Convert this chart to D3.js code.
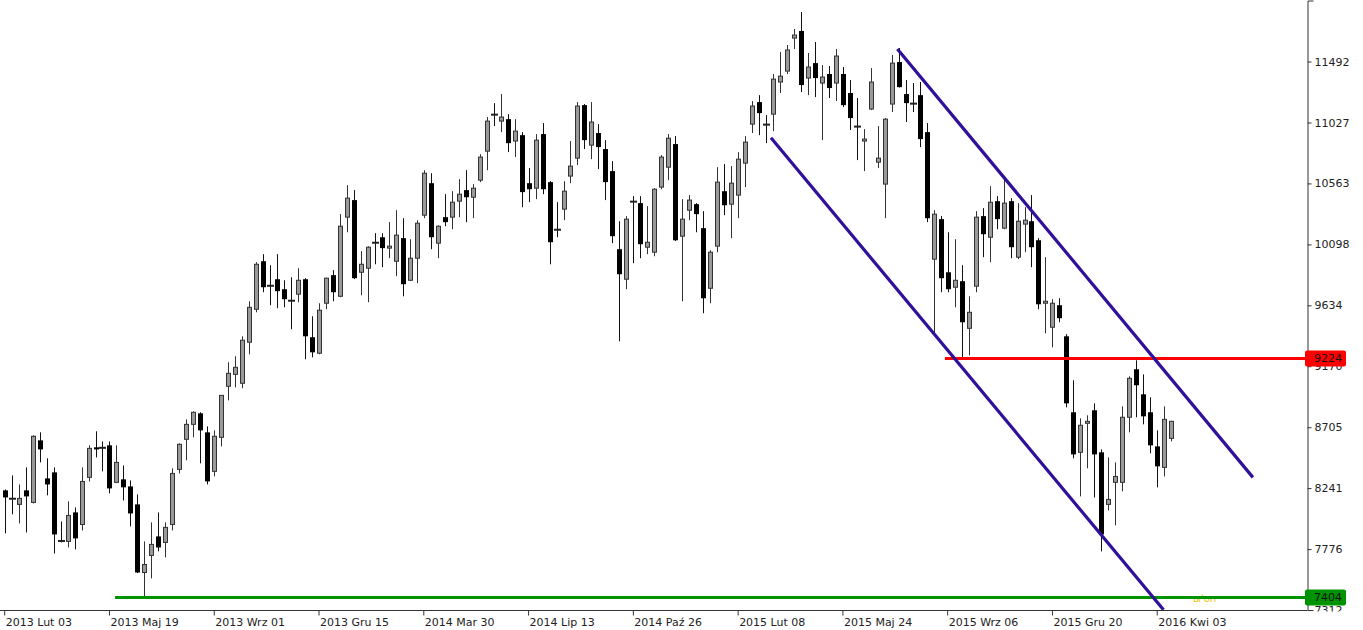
<!DOCTYPE html>
<html>
<head>
<meta charset="utf-8">
<script src="https://cdn.jsdelivr.net/npm/d3@7"></script>
<style>
  html, body { margin: 0; padding: 0; background: #fff; }
  svg { display: block; }
  text { font-family: "DejaVu Sans", Verdana, sans-serif; }
</style>
</head>
<body>
<svg id="chart" width="1363" height="630"></svg>
<script>
// ---- weekly OHLC values (one per week, starting 2013 Lut 03) ----
const open = [
 8220,8160,8113,8220,8128,8601,8311,8357,7838,7831,
 8052,7960,8319,8548,8548,8563,8281,8304,8250,8113,
 7594,7724,7869,7823,7960,8380,8609,8723,8807,8662,
 8365,8624,9013,9104,9036,9349,9600,9966,9783,9829,
 9753,9669,9715,9829,9387,9265,9646,9860,9699,10302,
 10432,9882,9913,10111,10149,10066,9966,10142,9821,9989,
 10317,10561,10104,10302,10302,10424,10508,10454,10584,10805,
 11087,11034,11049,10882,10927,10561,10523,10935,10569,10210,
 10363,10615,10752,11156,10851,10943,10821,10653,10058,9829,
 10424,10409,10073,10035,10531,10683,10859,10157,10355,10401,
 10218,9760,10081,10500,10401,10470,10714,11011,11179,11011,
 11087,11332,11415,11667,11721,11362,11476,11324,11393,11324,
 11393,11248,10996,10882,11126,10721,10554,11164,11484,11240,
 11171,11232,10950,9982,10287,9882,9768,9814,9455,9776,
 10310,10149,10424,10218,10424,9997,10249,10271,10126,9646,
 9463,9631,9394,8815,8510,8731,8830,8510,8113,8281,
 8281,8777,9143,8952,8815,8555,8395,8616
];
const high = [
 8227,8334,8265,8395,8640,8662,8464,8395,7983,8136,
 8090,8395,8563,8670,8593,8593,8563,8410,8296,8189,
 7831,7976,8052,7976,8388,8578,8761,8822,8815,8708,
 8677,8944,9196,9242,9394,9661,9959,10020,9936,10020,
 9821,9844,9913,9837,9547,9646,9840,9898,10325,10546,
 10508,10043,10080,10180,10180,10264,10355,10294,10134,10279,
 10660,10637,10240,10477,10500,10592,10660,10554,10782,11065,
 11171,11240,11087,11049,10950,10676,10935,11019,10576,10416,
 10576,10882,11179,11164,11179,11011,10889,10729,10271,10310,
 10462,10462,10386,10523,10775,10935,10920,10439,10470,10409,
 10348,10050,10683,10706,10691,10798,10920,11187,11232,11080,
 11393,11560,11614,11736,11865,11553,11637,11461,11454,11583,
 11446,11347,11210,10973,11438,10996,11057,11538,11591,11347,
 11324,11332,11019,10355,10310,10187,10134,9936,9699,10348,
 10371,10538,10462,10599,10447,10409,10378,10470,10142,9997,
 9677,9684,9410,9059,8769,8792,8883,8532,8471,8433,
 8860,9089,9211,9104,8929,8677,8860,8750
];
const low = [
 7892,8037,7968,7899,8120,8433,8182,7739,7823,7785,
 7770,7915,8288,8471,8365,8197,8275,8143,7945,7590,
 7404,7549,7755,7709,7915,8349,8449,8624,8426,8265,
 8326,8555,8906,9005,8998,9257,9577,9730,9631,9608,
 9615,9448,9654,9219,9234,9257,9600,9661,9692,10187,
 9830,9707,9654,9943,9921,9989,9852,9699,9815,9799,
 10294,10058,9989,10233,10210,10302,10264,10294,10569,10660,
 10996,10950,10798,10760,10378,10416,10439,10477,9943,10149,
 10279,10561,10699,10821,10744,10668,10432,10104,9356,9753,
 9951,9989,10020,10004,10515,10584,10120,9661,10279,10187,
 9570,9646,10035,10317,10142,10294,10531,10943,10927,10866,
 10958,11248,11393,11583,11255,11232,11217,10889,11210,11187,
 11141,10966,10737,10653,11118,10676,10294,11103,11290,11027,
 11103,10836,10264,9425,9730,9730,9615,9227,9249,9730,
 9997,9959,10210,10210,9989,9982,10035,9921,9600,9417,
 9310,9501,8853,8464,8174,8388,8166,7755,8067,7953,
 8212,8662,8777,8723,8502,8243,8326,8593
];
const close = [
 8166,8158,8159,8174,8632,8532,8265,7884,7836,8029,
 7854,8288,8540,8532,8546,8235,8433,8243,8044,7594,
 7655,7808,7785,7938,8349,8571,8723,8815,8677,8288,
 8632,8944,9112,9158,9364,9615,9943,9768,9781,9738,
 9677,9667,9821,9394,9272,9593,9837,9730,10233,10447,
 9837,9943,10073,10109,10066,10081,10165,9791,9989,10256,
 10637,10149,10233,10264,10416,10477,10454,10523,10760,11034,
 11085,11065,10866,10958,10493,10515,10889,10515,10111,10208,
 10500,10691,11149,10889,11027,10836,10569,10157,9867,10287,
 10422,10096,10111,10515,10760,10904,10126,10287,10432,10325,
 9684,10035,10569,10393,10561,10744,10874,11149,11095,11009,
 11354,11377,11576,11690,11309,11446,11362,11370,11286,11530,
 11156,11057,10994,10897,11332,10752,11049,11476,11293,11171,
 11169,10897,10294,10325,9837,9753,9821,9501,9577,10302,
 10172,10416,10287,10409,10073,10271,10279,10073,9638,9661,
 9646,9532,8883,8494,8716,8746,8494,7884,8151,8326,
 8777,9074,9021,8784,8563,8403,8761,8746
];

// x-axis tick labels (every 15 weeks) and their week index
const xTickIndex = [0, 15, 30, 45, 60, 75, 90, 105, 120, 135, 150, 165];
const xTickLabels = ["2013 Lut 03","2013 Maj 19","2013 Wrz 01","2013 Gru 15",
  "2014 Mar 30","2014 Lip 13","2014 Paź 26","2015 Lut 08","2015 Maj 24",
  "2015 Wrz 06","2015 Gru 20","2016 Kwi 03"];

// y-axis tick values
const yTicks = [11492, 11027, 10563, 10098, 9634, 9170, 8705, 8241, 7776, 7312];

// drawn objects: [weekIndex, value]
const channelLower = [[109.7, 10907], [165.9, 7310]];
const channelUpper = [[127.8, 11583], [178.7, 8319]];
const resistance = { start: 134.6, value: 9224 };
const support = { start: 15.8, value: 7404 };

// ---- layout ----
const svg = d3.select("#chart");
const axisX = 1307;     // right axis position
const axisY = 610;      // bottom axis position

const x = d3.scaleLinear().domain([0, open.length - 1]).range([4.7, 4.7 + 6.985 * (open.length - 1)]);
const y = d3.scaleLinear().domain([7312, 11957]).range([609.5, 0]);

const defs = svg.append("defs");
defs.append("clipPath").attr("id", "clip")
  .append("rect").attr("x", 0).attr("y", 0).attr("width", axisX).attr("height", axisY);
defs.append("clipPath").attr("id", "clipAxis")
  .append("rect").attr("x", -10).attr("y", -10).attr("width", 100).attr("height", axisY + 11);

const plot = svg.append("g");

// ---- candles ----
const idx = d3.range(open.length);
const cg = plot.append("g");
idx.forEach(i => {
  const cx = Math.round(x(i));
  const yo = y(open[i]), yc = y(close[i]);
  const up = close[i] > open[i];
  cg.append("line")
    .attr("x1", cx + 0.5).attr("x2", cx + 0.5)
    .attr("y1", y(high[i])).attr("y2", y(low[i]))
    .attr("stroke", up ? "#333" : "#111").attr("stroke-width", 1);
  const top = Math.min(yo, yc), h = Math.abs(yo - yc);
  if (h < 1.5) {
    cg.append("rect").attr("x", cx - 3).attr("y", top - 0.5).attr("width", 7).attr("height", 2)
      .attr("fill", "#222");
  } else if (up) {
    cg.append("rect").attr("x", cx - 1.5).attr("y", top).attr("width", 4).attr("height", h)
      .attr("fill", "#999").attr("stroke", "#333").attr("stroke-width", 1);
  } else {
    cg.append("rect").attr("x", cx - 2).attr("y", top).attr("width", 5).attr("height", h)
      .attr("fill", "#000");
  }
});

// ---- small label hidden behind support line ----
svg.append("text").attr("x", 1193).attr("y", 602).attr("font-size", 10)
  .attr("fill", "#f2c200").text("ы'он");

// ---- horizontal levels ----
svg.append("line").attr("x1", x(resistance.start)).attr("x2", axisX)
  .attr("y1", y(resistance.value)).attr("y2", y(resistance.value))
  .attr("stroke", "#ff0000").attr("stroke-width", 3);
svg.append("line").attr("x1", x(support.start)).attr("x2", axisX)
  .attr("y1", y(support.value)).attr("y2", y(support.value))
  .attr("stroke", "#009300").attr("stroke-width", 3);

// ---- channel lines ----
const ln = d3.line().x(d => x(d[0])).y(d => y(d[1]));
[channelLower, channelUpper].forEach(p => {
  svg.append("path").attr("d", ln(p)).attr("clip-path", "url(#clip)")
    .attr("fill", "none").attr("stroke", "#30109a").attr("stroke-width", 3.2);
});

// ---- axes ----
const xAxis = d3.axisBottom(x).tickValues(xTickIndex)
  .tickFormat((d, k) => xTickLabels[k]).tickSize(5).tickPadding(3).tickSizeOuter(0);
const gx = svg.append("g").attr("transform", `translate(0.5,${axisY + 0.5})`).call(xAxis);
gx.select(".domain").remove();
gx.selectAll(".tick line").attr("stroke", "#333").attr("transform", "translate(-1,0)");
gx.selectAll(".tick text").attr("text-anchor", "start").attr("x", 0)
  .attr("font-size", 11).attr("fill", "#222").attr("font-family", "DejaVu Sans");
svg.append("line").attr("x1", 0).attr("x2", axisX).attr("y1", axisY + 0.5).attr("y2", axisY + 0.5)
  .attr("stroke", "#333");

const yAxis = d3.axisRight(y).tickValues(yTicks).tickFormat(d3.format("d"))
  .tickSize(4).tickPadding(3).tickSizeOuter(6);
const gy = svg.append("g").attr("transform", `translate(${axisX + 0.5},0.5)`)
  .append("g").attr("clip-path", "url(#clipAxis)").call(yAxis);
gy.select(".domain").attr("stroke", "#333");
gy.selectAll(".tick line").attr("stroke", "#333");
gy.selectAll(".tick text").attr("font-size", 11).attr("fill", "#222").attr("font-family", "DejaVu Sans");

// ---- level labels ----
function levelLabel(v, col) {
  const yy = y(v);
  svg.append("rect").attr("x", 1305).attr("y", yy - 8).attr("width", 41).attr("height", 16)
    .attr("rx", 2).attr("fill", col);
  svg.append("text").attr("x", 1314).attr("y", yy).attr("dy", "0.35em")
    .attr("font-size", 11).attr("fill", "#111").text(v);
}
levelLabel(resistance.value, "#ff0000");
levelLabel(support.value, "#009300");
</script>
</body>
</html>
